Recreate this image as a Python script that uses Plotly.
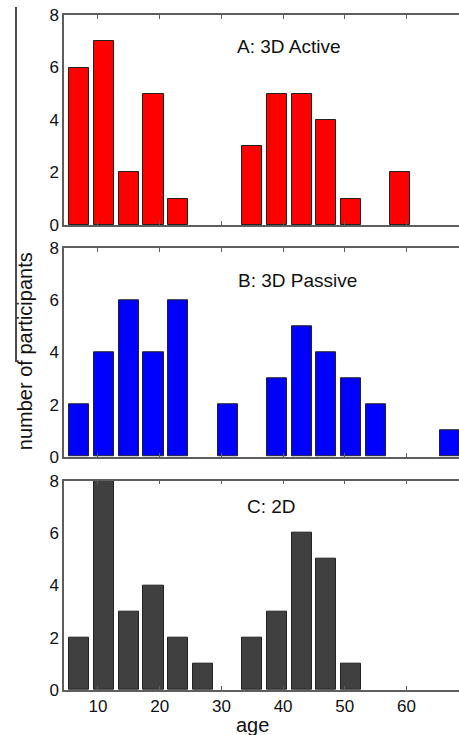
import plotly.graph_objects as go
from plotly.subplots import make_subplots

# Data: histogram bin centers (age) and counts
age_bins = [7, 11, 15, 19, 23, 27, 31, 35, 39, 43, 47, 51, 55, 59, 63, 67]
active_3d = [6, 7, 2, 5, 1, 0, 0, 3, 5, 5, 4, 1, 0, 2, 0, 0]
passive_3d = [2, 4, 6, 4, 6, 0, 2, 0, 3, 5, 4, 3, 2, 0, 0, 1]
two_d = [2, 8, 3, 4, 2, 1, 0, 2, 3, 6, 5, 1, 0, 0, 0, 0]
panel_labels = ["A: 3D Active", "B: 3D Passive", "C: 2D"]
x_ticks = [10, 20, 30, 40, 50, 60]
y_ticks = [0, 2, 4, 6, 8]

series = [active_3d, passive_3d, two_d]
colors = ["#ff0000", "#0000ff", "#404040"]

W, H = 459, 735
ML, MR, MT, MB = 64, 0, 15, 45

fig = make_subplots(rows=3, cols=1, shared_xaxes=False)

domains = [[0.6889, 1.0], [0.3456, 0.6544], [0.0, 0.3101]]
ann_pos = [(32.2, 6.79), (32.4, 6.76), (33.8, 7.0)]

FONT = "Liberation Sans, Arial, sans-serif"
AXC = "#5e5e5e"

for i, (vals, col) in enumerate(zip(series, colors)):
    r = i + 1
    # empty bins are drawn as no bar at all (as in the reference)
    shown = [v if v > 0 else None for v in vals]
    fig.add_trace(go.Bar(x=age_bins, y=shown, width=3.25,
                         marker=dict(color=col, line=dict(color="#222222", width=1)),
                         showlegend=False), row=r, col=1)
    fig.update_xaxes(range=[4.5, 68.5], tickvals=x_ticks, ticks="inside", ticklen=4,
                     tickcolor=AXC, showline=True, linecolor=AXC, linewidth=1.5,
                     mirror="ticks", showgrid=False, zeroline=False,
                     showticklabels=(r == 3),
                     tickfont=dict(family=FONT, size=17, color="#111"),
                     row=r, col=1)
    fig.update_yaxes(range=[0, 8], tickvals=y_ticks, ticks="", showline=True,
                     linecolor=AXC, linewidth=1.5, showgrid=False, zeroline=False,
                     tickfont=dict(family=FONT, size=17, color="#111"),
                     domain=domains[i], row=r, col=1)
    ax = "x" if r == 1 else f"x{r}"
    ay = "y" if r == 1 else f"y{r}"
    fig.add_annotation(x=ann_pos[i][0], y=ann_pos[i][1], xref=ax, yref=ay,
                       text=panel_labels[i], showarrow=False, xanchor="left",
                       yanchor="middle",
                       font=dict(family=FONT, size=19, color="#111"))

fig.add_annotation(x=-0.0987, y=0.502, xref="paper", yref="paper",
                   text="number of participants", textangle=-90, showarrow=False,
                   xanchor="center", yanchor="middle",
                   font=dict(family=FONT, size=20, color="#111"))
fig.add_annotation(x=0.476, y=-0.052, xref="paper", yref="paper",
                   text="age", showarrow=False, xanchor="center", yanchor="middle",
                   font=dict(family=FONT, size=20, color="#111"))

# stray vertical line at left edge of the scanned figure
fig.add_shape(type="line", xref="paper", yref="paper",
              x0=-0.1215, x1=-0.1215, y0=1.012, y1=0.486,
              line=dict(color="#111", width=1.5))

fig.update_layout(width=W, height=H, margin=dict(l=ML, r=MR, t=MT, b=MB),
                  plot_bgcolor="white", paper_bgcolor="white", bargap=0)

fig.write_html("out.html")
